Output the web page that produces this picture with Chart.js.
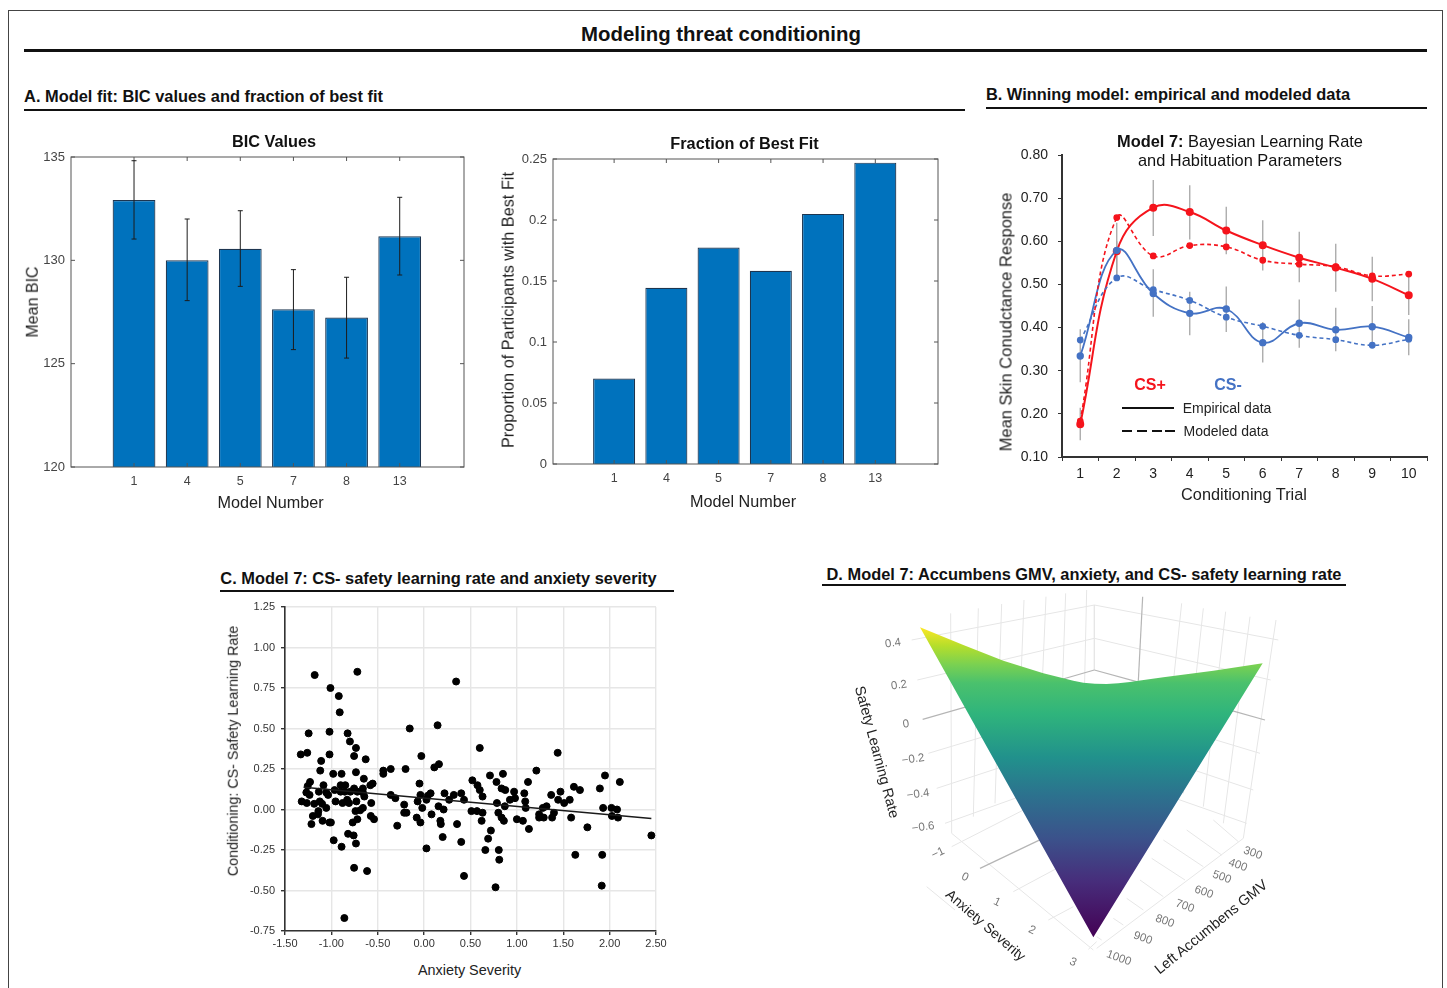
<!DOCTYPE html>
<html lang="en">
<head>
<meta charset="UTF-8">
<title>Modeling threat conditioning</title>
<script src="https://cdn.jsdelivr.net/npm/chart.js@4.4.1"></script>
<style>
  html,body{margin:0;padding:0;background:#fff;overflow:hidden;height:988px}
  body{position:relative;width:1447px;font-family:"Liberation Sans",Arial,sans-serif;color:#111}
  canvas{position:absolute}
  .t{position:absolute;white-space:nowrap;transform-origin:center}
  .r{position:absolute;background:#111}
  #frame{position:absolute;left:8px;top:10px;width:1433px;height:1000px;border:1.5px solid #444}
</style>
</head>
<body>
<div id="frame"></div>

<canvas id="bicChart"></canvas>
<canvas id="fracChart"></canvas>
<canvas id="scrChart"></canvas>
<canvas id="scatterChart"></canvas>
<canvas id="surfaceChart"></canvas>

<script>
// panel A
const models=['1','4','5','7','8','13'];
const bicValues=[132.92,130.0,130.56,127.63,127.23,131.16];
const bicLow=[131.03,128.05,128.74,125.68,125.27,129.29];
const bicHigh=[134.82,132.0,132.4,129.55,129.18,133.05];
const bestFit=[0.0701,0.1444,0.1774,0.1583,0.205,0.247];

// panel B
const trials=['1','2','3','4','5','6','7','8','9','10'];
const csPlusEmp=[0.176,0.577,0.678,0.668,0.625,0.591,0.562,0.539,0.513,0.475];
const csPlusMod=[0.183,0.655,0.566,0.59,0.587,0.556,0.547,0.541,0.52,0.524];
const csMinusEmp=[0.334,0.579,0.479,0.433,0.443,0.365,0.41,0.395,0.402,0.377];
const csMinusMod=[0.371,0.515,0.488,0.463,0.424,0.403,0.382,0.372,0.359,0.373];
const csPlusHigh=[0.214,0.643,0.742,0.73,0.68,0.649,0.622,0.594,0.564,0.524];
const csPlusLow=[0.139,0.51,0.612,0.604,0.57,0.532,0.505,0.483,0.461,0.429];
const csMinusHigh=[0.396,0.6,0.535,0.483,0.495,0.413,0.465,0.446,0.45,0.419];
const csMinusLow=[0.273,0.52,0.425,0.382,0.39,0.319,0.353,0.345,0.353,0.336];

// panel C
const anxiety=[-1.18,-.72,-1.01,-.92,-.91,-.155,.145,-1.245,-1.02,-.825,-.8,-.735,-1.33,-1.26,-1.02,-.755,-.63,-1.11,-.03,.16,.11,-1.12,-.98,-.89,-.735,-.44,-.44,-.36,-.2,-.65,-1.23,-.555,-.58,-.05,-1.255,-1.085,-.9,-.85,-.755,-.66,-.965,-.9,-.855,-.795,-1.135,-1.055,-.72,-.66,-1.27,-1.235,-1.035,-.645,-.36,-.31,.07,.22,-.04,.04,.025,.27,-1.32,-1.265,-1.185,-1.125,-1.1,-.955,-.73,-.83,-.81,-.88,-.57,-.07,-.215,-1.055,-.66,-.69,-.74,-.02,.155,.21,-1.14,-1.145,-1.2,-.215,-.19,-.575,-.54,-.08,-.04,.08,.175,.18,-1.095,-1.02,-1.005,-1.215,-.72,-.77,-.29,-.82,-.76,.2,-.975,-.735,-.89,.025,-.755,-.615,-.86,.345,.6,1.44,1.21,.71,.85,1.95,.52,.78,1.12,2.11,.575,.6,.835,.875,1.615,1.68,1.895,.32,.4,.63,.97,1.08,1.37,1.47,.43,.925,.98,1.09,1.445,1.57,1.51,.785,.87,1.095,1.32,1.28,1.93,2.02,2.08,.51,.57,.63,.8,1.4,1.24,.835,.86,.62,1.0,1.065,1.24,1.29,1.38,1.585,2.025,2.09,.355,1.76,1.13,.72,.69,.4,.66,.805,.81,1.63,1.92,.43,.77,1.915,2.45];
const safetyRate=[.83,.85,.75,.7,.6,.5,.52,.47,.48,.47,.42,.38,.34,.35,.34,.33,.31,.3,.33,.28,.26,.24,.22,.22,.23,.24,.22,.25,.25,.19,.17,.16,.15,.16,.145,.15,.15,.15,.13,.13,.12,.11,.11,.11,.11,.105,.11,.105,.105,.09,.09,.08,.09,.07,.1,.1,.09,.085,.06,.06,.05,.04,.035,.05,.035,.05,.05,.06,.04,.04,.04,.05,.03,.01,.01,-.005,-.01,.01,.02,0,-.01,-.03,-.04,-.02,-.02,-.04,-.06,-.05,-.08,-.03,-.07,-.09,-.07,-.08,-.08,-.09,-.06,-.08,-.1,-.15,-.16,-.17,-.19,-.21,-.23,-.24,-.36,-.38,-.67,.79,.38,.35,.24,.21,.22,.21,.18,.17,.17,.17,.15,.12,.13,.12,.14,.12,.13,.09,.1,.08,.11,.1,.09,.11,.06,.06,.07,.05,.06,.06,.04,.04,.02,.01,.02,.01,.01,.01,0,-.01,-.01,-.02,-.02,-.02,-.03,-.05,-.07,-.07,-.06,-.07,-.05,-.05,-.05,-.05,-.04,-.05,-.09,-.11,-.12,-.13,-.18,-.2,-.25,-.25,-.31,-.28,-.28,-.41,-.48,-.47,-.16];
const trendX=[-1.3,2.45];
const trendY=[.138,-.055];

// panel D (px in a 1440x1185 view)
const surfaceEdgeX=[270,400,520,640,700,730,760,795,830,865,900,925,1000,1150,1298,790];
const surfaceEdgeY=[112,165,212,250,265,272,278,281,282,280,276,272,262,242,220,1042];
const surfaceLevels=[[0,'#fde725'],[.06,'#b5de2b'],[.12,'#7ad151'],[.18,'#4ac16d'],[.28,'#2fb47c'],[.42,'#21918c'],[.54,'#2c728e'],[.68,'#3b528b'],[.82,'#472d7b'],[1,'#440154']];
const lightGrid=[
 [793,45,245,150],[793,145,262,270],[793,340,295,490],[793,440,320,595],[793,540,345,700],
 [362,70,365,730],[445,55,430,680],[515,42,495,640],[582,30,560,600],[648,20,625,550],[707,10,690,500],[770,0,760,450],
 [793,45,793,240],
 [793,45,1345,150],[793,145,1322,270],[793,340,1290,490],[793,440,1270,600],[793,540,1250,700],
 [1055,40,1000,560],[1120,55,1060,610],[1187,65,1120,650],[1260,80,1180,700],[1338,90,1240,745],
 [365,770,600,650],[550,905,690,830],[655,990,730,950],[775,1078,800,1055],
 [1225,755,1150,690],[1175,795,1070,720],[1120,830,1000,750],[1065,870,965,805],[1000,920,930,870],[940,960,890,925],[880,1005,850,985],[815,1050,800,1040],
 [365,730,790,1080],[1240,745,800,1075],[290,890,375,960]
];
const zeroGrid=[[938,20,925,272],[793,240,278,388],[793,240,920,275],[1205,362,1305,390],[450,835,650,740]];

Chart.defaults.font.family='"Liberation Sans",Arial,sans-serif';
Chart.defaults.animation=false;
Chart.defaults.plugins.legend.display=false;
Chart.defaults.plugins.tooltip.enabled=false;

function label(text,cx,cy,size,opt){
  opt=opt||{};
  const d=document.createElement('div');
  d.className='t';
  d.innerHTML=text;
  d.style.left=cx+'px';d.style.top=cy+'px';
  d.style.fontSize=size+'px';
  d.style.lineHeight=(opt.lh||size*1.15)+'px';
  if(opt.bold)d.style.fontWeight='bold';
  if(opt.color)d.style.color=opt.color;
  if(opt.center)d.style.textAlign='center';
  d.style.transform='translate(-50%,-50%) rotate('+(opt.rot||0)+'deg)';
  document.body.appendChild(d);
}
function rule(x1,x2,y,h,color){
  const d=document.createElement('div');
  d.className='r';
  d.style.left=x1+'px';d.style.top=(y-h/2)+'px';d.style.width=(x2-x1)+'px';d.style.height=h+'px';
  if(color)d.style.background=color;
  document.body.appendChild(d);
}
// put a canvas so that its chart area lands on the plot box l,t,r,b
function place(id,box,m){
  const c=document.getElementById(id);
  c.style.left=(box.l-m.l)+'px';c.style.top=(box.t-m.t)+'px';
  c.width=box.r-box.l+m.l+m.r;c.height=box.b-box.t+m.t+m.b;
  return c;
}
function errorBars(bars,under){
  const draw=chart=>{
    const ctx=chart.ctx,y=chart.scales.y;
    bars.forEach(b=>{
      const pts=chart.getDatasetMeta(b.dataset).data;
      ctx.save();ctx.strokeStyle=b.color;ctx.lineWidth=b.width;
      pts.forEach((p,i)=>{
        const lo=y.getPixelForValue(b.lo[i]),hi=y.getPixelForValue(b.hi[i]);
        ctx.beginPath();ctx.moveTo(p.x,lo);ctx.lineTo(p.x,hi);
        if(b.cap){
          ctx.moveTo(p.x-b.cap,lo);ctx.lineTo(p.x+b.cap,lo);
          ctx.moveTo(p.x-b.cap,hi);ctx.lineTo(p.x+b.cap,hi);
        }
        ctx.stroke();
      });
      ctx.restore();
    });
  };
  return under?{id:'errUnder',beforeDatasetsDraw:draw}:{id:'errOver',afterDatasetsDraw:draw};
}
// matlab style box: all four sides, ticks pointing in
const matlabBox={id:'matlabBox',afterDatasetsDraw(chart){
  const {ctx,chartArea:a,scales:{x,y}}=chart,n=4;
  ctx.save();ctx.strokeStyle='#555';ctx.lineWidth=1;
  ctx.strokeRect(a.left,a.top,a.right-a.left,a.bottom-a.top);
  ctx.beginPath();
  x.ticks.forEach(t=>{const p=x.getPixelForValue(t.value);
    ctx.moveTo(p,a.bottom);ctx.lineTo(p,a.bottom-n);ctx.moveTo(p,a.top);ctx.lineTo(p,a.top+n);});
  y.ticks.forEach(t=>{const p=y.getPixelForValue(t.value);
    ctx.moveTo(a.left,p);ctx.lineTo(a.left+n,p);ctx.moveTo(a.right,p);ctx.lineTo(a.right-n,p);});
  ctx.stroke();ctx.restore();
}};

function matlabBars(id,box,vals,yOpts,size,xMin,xMax,extra){
  const m={l:60,t:24,r:24,b:34};
  return new Chart(place(id,box,m),{
    type:'bar',
    data:{datasets:[{data:vals.map((v,i)=>({x:i+1,y:v})),backgroundColor:'#0072bd',borderColor:'#1d3550',borderWidth:1.2,barPercentage:.805,categoryPercentage:1}]},
    options:{responsive:false,layout:{padding:{top:m.t,right:m.r}},
      scales:{
        x:{type:'linear',min:xMin,max:xMax,offset:false,grid:{display:false,offset:false,tickLength:0},border:{display:false},
           afterBuildTicks:s=>{s.ticks=models.map((_,i)=>({value:i+1}));},afterFit:s=>{s.height=m.b;},
           ticks:{autoSkip:false,maxRotation:0,padding:7,color:'#444',font:{size:size},callback:v=>models[v-1]}},
        y:Object.assign({grid:{display:false,tickLength:0},border:{display:false},afterFit:s=>{s.width=m.l;}},yOpts)
      }},
    plugins:[matlabBox].concat(extra||[])
  });
}
matlabBars('bicChart',{l:71,t:157,r:464,b:467},bicValues,
  {min:120,max:135,ticks:{stepSize:5,padding:6,color:'#444',font:{size:13}}},12.5,-.186,7.21,
  [errorBars([{dataset:0,lo:bicLow,hi:bicHigh,color:'#1c1c1c',width:1,cap:2.5}],false)]);
matlabBars('fracChart',{l:553,t:159,r:938,b:464},bestFit,
  {min:0,max:.25,ticks:{stepSize:.05,padding:6,color:'#444',font:{size:13},callback:v=>String(+v.toFixed(2))}},12.5,-.17,7.2);

// panel B
const bm={l:60,t:24,r:20,b:34};
new Chart(place('scrChart',{l:1062,t:155,r:1427,b:457},bm),{
  type:'line',
  data:{labels:trials,datasets:[
    {data:csPlusMod,borderColor:'#f5141c',backgroundColor:'#f5141c',borderWidth:1.6,borderDash:[4,3],pointRadius:2.6,tension:.42},
    {data:csMinusMod,borderColor:'#4472c4',backgroundColor:'#4472c4',borderWidth:1.6,borderDash:[4,3],pointRadius:2.6,tension:.42},
    {data:csMinusEmp,borderColor:'#4472c4',backgroundColor:'#4472c4',borderWidth:1.8,pointRadius:2.8,tension:.42},
    {data:csPlusEmp,borderColor:'#f5141c',backgroundColor:'#f5141c',borderWidth:2,pointRadius:3,tension:.42}
  ]},
  options:{responsive:false,layout:{padding:{top:bm.t,right:bm.r}},
    scales:{
      x:{offset:true,grid:{offset:true,drawOnChartArea:false,color:'#333',tickLength:4},border:{color:'#333',width:2},afterFit:s=>{s.height=bm.b;},
         ticks:{padding:5,color:'#222',font:{size:14},maxRotation:0}},
      y:{min:.1,max:.8,grid:{drawOnChartArea:false,color:'#333',tickLength:4},border:{color:'#333',width:2},afterFit:s=>{s.width=bm.l;},
         ticks:{stepSize:.1,padding:10,color:'#222',font:{size:14},callback:v=>v.toFixed(2)}}
    }},
  plugins:[errorBars([
    {dataset:3,lo:csPlusLow,hi:csPlusHigh,color:'#a6a6a6',width:1.3},
    {dataset:2,lo:csMinusLow,hi:csMinusHigh,color:'#a6a6a6',width:1.3}],true)]
});

// panel C
const cm={l:50,t:18,r:20,b:24};
new Chart(place('scatterChart',{l:285,t:607,r:656,b:931},cm),{
  type:'scatter',
  data:{datasets:[
    {data:trendX.map((x,i)=>({x:x,y:trendY[i]})),showLine:true,borderColor:'#1a1a1a',borderWidth:1.5,pointRadius:0},
    {data:anxiety.map((x,i)=>({x:x,y:safetyRate[i]})),backgroundColor:'#000',borderColor:'#000',pointRadius:3.5}
  ]},
  options:{responsive:false,layout:{padding:{top:cm.t,right:cm.r}},
    scales:{
      x:{min:-1.5,max:2.5,grid:{color:'#e6e6e6',lineWidth:1.4,tickColor:'#333',tickLength:4},border:{color:'#333',width:1.6},afterFit:s=>{s.height=cm.b;},
         ticks:{stepSize:.5,padding:2,color:'#333',font:{size:11},maxRotation:0,callback:v=>v.toFixed(2)}},
      y:{min:-.75,max:1.25,grid:{color:'#e6e6e6',lineWidth:1.4,tickColor:'#333',tickLength:4},border:{color:'#333',width:1.6},afterFit:s=>{s.width=cm.l;},
         ticks:{stepSize:.25,padding:6,color:'#333',font:{size:11},callback:v=>v.toFixed(2)}}
    }}
});

// panel D
const seg=(s,color,w)=>({data:[{x:s[0],y:s[1]},{x:s[2],y:s[3]}],showLine:true,borderColor:color,borderWidth:w,pointRadius:0});
const surfaceFill=ctx=>{
  const c=ctx.chart;
  if(!c.chartArea)return '#21918c';
  const y=c.scales.y;
  const g=c.ctx.createLinearGradient(0,y.getPixelForValue(112),0,y.getPixelForValue(1042));
  surfaceLevels.forEach(s=>g.addColorStop(s[0],s[1]));
  return g;
};
const surfaceCanvas=place('surfaceChart',{l:830,t:590,r:1310,b:985},{l:0,t:0,r:0,b:0});
new Chart(surfaceCanvas,{
  type:'scatter',
  data:{datasets:[
    {data:surfaceEdgeX.map((x,i)=>({x:x,y:surfaceEdgeY[i]})),showLine:true,fill:'shape',tension:0,borderWidth:0,pointRadius:0,backgroundColor:surfaceFill,order:1}
  ].concat(lightGrid.map(s=>Object.assign(seg(s,'#e6e6e6',1),{order:3})),zeroGrid.map(s=>Object.assign(seg(s,'#b5b5b5',1.2),{order:2})))},
  options:{responsive:false,scales:{
    x:{display:false,min:0,max:1440},
    y:{display:false,min:0,max:1185,reverse:true}
  }}
});

// text
label('Modeling threat conditioning',721,34.5,20.4,{bold:true});
rule(24,1427,50.5,2.5);
label('A. Model fit: BIC values and fraction of best fit',203.5,96,16.4,{bold:true});
rule(24,965,110,2.2);
label('B. Winning model: empirical and modeled data',1168,94,16.4,{bold:true});
rule(986,1427,108,2.2);
label('C. Model 7: CS- safety learning rate and anxiety severity',438.5,578,16.4,{bold:true});
rule(220,674,591,2.2);
label('D. Model 7: Accumbens GMV, anxiety, and CS- safety learning rate',1084,574,16.4,{bold:true});
rule(822,1346,585,2.2);

label('BIC Values',274,141,16.3,{bold:true});
label('Mean BIC',33,302,16,{rot:-90,color:'#222'});
label('Model Number',270.5,501.5,16.2,{color:'#222'});
label('Fraction of Best Fit',744.5,143,16.3,{bold:true});
label('Proportion of Participants with Best Fit',508,310,16.3,{rot:-90,color:'#222'});
label('Model Number',743,500.5,16.2,{color:'#222'});

label('<b>Model 7:</b> Bayesian Learning Rate<br>and Habituation Parameters',1240,150.5,16.4,{center:true,lh:19});
label('Mean Skin Conudctance Response',1006,321.5,16.5,{rot:-90,color:'#222'});
label('Conditioning Trial',1244,494,16.3,{color:'#222'});
label('CS+',1150,384.5,16,{bold:true,color:'#f5141c'});
label('CS-',1228,384.5,16,{bold:true,color:'#4472c4'});
rule(1122,1174,407.7,2,'#111');
[1122,1137,1152,1165].forEach(x=>rule(x,x+10,431,2,'#111'));
label('Empirical data',1227,408,14,{color:'#222'});
label('Modeled data',1226,431,14,{color:'#222'});

label('Conditioning: CS- Safety Learning Rate',233,750.5,14.3,{rot:-90,color:'#222'});
label('Anxiety Severity',469.5,970,14.4,{color:'#222'});

// tick text and titles of the 3D plot, positions in the same 1440x1185 view
const px=v=>830+v/3,py=v=>590+v/3;
[['0.4',190,160,-8],['0.2',208,285,-8],['0',228,403,-8],['\u22120.2',248,507,-8],['\u22120.4',265,612,-8],['\u22120.6',280,710,-8]]
  .forEach(t=>label(t[0],px(t[1]),py(t[2]),11.5,{color:'#777',rot:t[3]}));
[['\u22121',323,790,-25],['0',405,860,25],['1',500,935,25],['2',605,1020,25],['3',730,1115,25]]
  .forEach(t=>label(t[0],px(t[1]),py(t[2]),11.5,{color:'#777',rot:t[3]}));
[['300',1270,790],['400',1225,825],['500',1175,862],['600',1122,905],['700',1065,947],['800',1005,993],['900',940,1045],['1000',868,1105]]
  .forEach(t=>label(t[0],px(t[1]),py(t[2]),11.5,{color:'#777',rot:20}));
label('Safety Learning Rate',px(142),py(485),14.5,{rot:75,color:'#222'});
label('Anxiety Severity',px(469),py(1005),14,{rot:41,color:'#222'});
label('Left Accumbens GMV',px(1142),py(1012),14.5,{rot:-39,color:'#222'});
</script>
</body>
</html>
